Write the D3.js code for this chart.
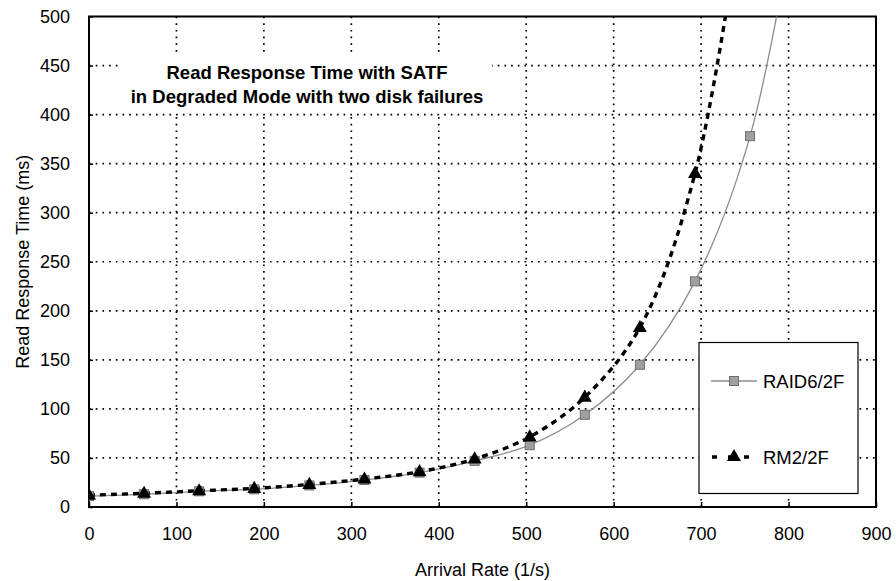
<!DOCTYPE html>
<html>
<head>
<meta charset="utf-8">
<script src="https://cdn.jsdelivr.net/npm/d3@7"></script>
<style>
  html, body { margin: 0; padding: 0; background: #fff; }
  svg { display: block; font-family: "Liberation Sans", Arial, Helvetica, sans-serif; }
</style>
</head>
<body>
<svg id="chart" width="896" height="581"></svg>
<script>
// Arrival rates (1/s) at which the read response time was measured
const arrivalRates = [0, 63, 126, 189, 252, 315, 378, 441, 504, 567, 630, 693, 756, 819];
// Read response time (ms); the trailing values lie above the plotted range
const raid6Values = [11, 13, 16, 18, 22, 27.5, 35, 47, 63, 94, 145, 230, 378, 665];
const rm2Values   = [12, 14, 16.5, 19, 23, 28.5, 36, 49, 71.5, 112, 183, 340, 665];

const xTicks = [0, 100, 200, 300, 400, 500, 600, 700, 800, 900];
const yTicks = [0, 50, 100, 150, 200, 250, 300, 350, 400, 450, 500];

const titleLines = ["Read Response Time with SATF", "in Degraded Mode with two disk failures"];
const xTitle = "Arrival Rate (1/s)";
const yTitle = "Read Response Time (ms)";
const seriesNames = ["RAID6/2F", "RM2/2F"];

const svg = d3.select("#chart");
const plot = { left: 89, right: 876, top: 16.5, bottom: 507 };

const x = d3.scaleLinear().domain([0, 900]).range([plot.left, plot.right]);
const y = d3.scaleLinear().domain([0, 500]).range([plot.bottom, plot.top]);

const raid6 = raid6Values.map((v, i) => ({ x: arrivalRates[i], y: v }));
const rm2 = rm2Values.map((v, i) => ({ x: arrivalRates[i], y: v }));

svg.append("defs").append("clipPath").attr("id", "plotClip")
  .append("rect")
  .attr("x", plot.left).attr("y", plot.top)
  .attr("width", plot.right - plot.left).attr("height", plot.bottom - plot.top);

// Dotted grid
const grid = svg.append("g").attr("stroke", "#000").attr("stroke-width", 1.7)
  .attr("stroke-dasharray", "1.7,5");
grid.selectAll(".gx").data(xTicks.slice(1, -1)).join("line")
  .attr("x1", d => x(d)).attr("x2", d => x(d))
  .attr("y1", plot.top).attr("y2", plot.bottom);
grid.selectAll(".gy").data(yTicks.slice(1, -1)).join("line")
  .attr("y1", d => y(d)).attr("y2", d => y(d))
  .attr("x1", plot.left).attr("x2", plot.right);

// Title panel sits over the grid
svg.append("rect").attr("x", 120).attr("y", 52).attr("width", 372).attr("height", 61)
  .attr("fill", "#fff");
svg.append("g").selectAll("text").data(titleLines).join("text")
  .attr("x", 307).attr("y", (d, i) => 79 + i * 24)
  .attr("text-anchor", "middle")
  .attr("font-weight", "bold").attr("font-size", 18.5)
  .text(d => d);

// Frame
svg.append("rect")
  .attr("x", plot.left).attr("y", plot.top)
  .attr("width", plot.right - plot.left).attr("height", plot.bottom - plot.top)
  .attr("fill", "none").attr("stroke", "#000").attr("stroke-width", 2);

// Axes
const xAxis = d3.axisBottom(x).tickValues(xTicks).tickSizeInner(-5).tickSizeOuter(0).tickPadding(20);
const gx = svg.append("g").attr("transform", `translate(0,${plot.bottom})`).call(xAxis);
gx.select(".domain").remove();
gx.selectAll("line").attr("stroke-width", 1.5);
gx.selectAll("text").attr("font-size", 18).attr("fill", "#000")
  .attr("font-family", "Liberation Sans, Arial, sans-serif");

const yAxis = d3.axisLeft(y).tickValues(yTicks).tickSizeInner(-4).tickSizeOuter(0).tickPadding(19);
const gy = svg.append("g").attr("transform", `translate(${plot.left},0)`).call(yAxis);
gy.select(".domain").remove();
gy.selectAll("line").attr("stroke-width", 1.5);
gy.selectAll("text").attr("font-size", 18).attr("fill", "#000")
  .attr("font-family", "Liberation Sans, Arial, sans-serif");

// Axis titles
svg.append("text").attr("x", (plot.left + plot.right) / 2).attr("y", 576)
  .attr("text-anchor", "middle").attr("font-size", 18).text(xTitle);
svg.append("text").attr("transform", `translate(29,${(plot.top + plot.bottom) / 2}) rotate(-90)`)
  .attr("text-anchor", "middle").attr("font-size", 18).text(yTitle);

// Series
const line = d3.line().x(d => x(d.x)).y(d => y(d.y)).curve(d3.curveCatmullRom);
const series = svg.append("g").attr("clip-path", "url(#plotClip)");

series.append("path").datum(raid6).attr("d", line)
  .attr("fill", "none").attr("stroke", "#8c8c8c").attr("stroke-width", 1.3);
series.append("path").datum(rm2).attr("d", line)
  .attr("fill", "none").attr("stroke", "#000").attr("stroke-width", 3.4)
  .attr("stroke-dasharray", "6,5");

const inRange = d => d.y <= y.domain()[1];
const sq = 9;
series.selectAll(".sq").data(raid6.filter(inRange)).join("rect")
  .attr("x", d => x(d.x) - sq / 2).attr("y", d => y(d.y) - sq / 2)
  .attr("width", sq).attr("height", sq)
  .attr("fill", "#a0a0a0").attr("stroke", "#6e6e6e").attr("stroke-width", 1);

const tri = d3.symbol().type(d3.symbolTriangle).size(85);
series.selectAll(".tri").data(rm2.filter(inRange)).join("path")
  .attr("transform", d => `translate(${x(d.x)},${y(d.y) + 0.5})`)
  .attr("d", tri).attr("fill", "#000");

// Legend
const legend = svg.append("g");
legend.append("rect").attr("x", 699).attr("y", 342.5).attr("width", 159).attr("height", 151)
  .attr("fill", "#fff").attr("stroke", "#000").attr("stroke-width", 1.2);
legend.append("line").attr("x1", 711).attr("x2", 757).attr("y1", 381).attr("y2", 381)
  .attr("stroke", "#8c8c8c").attr("stroke-width", 1.3);
legend.append("rect").attr("x", 734 - sq / 2).attr("y", 381 - sq / 2).attr("width", sq).attr("height", sq)
  .attr("fill", "#a0a0a0").attr("stroke", "#6e6e6e");
legend.append("line").attr("x1", 712).attr("x2", 753).attr("y1", 457).attr("y2", 457)
  .attr("stroke", "#000").attr("stroke-width", 3.4).attr("stroke-dasharray", "5,11,0,0");
legend.append("path").attr("transform", "translate(734,457)").attr("d", tri).attr("fill", "#000");
legend.selectAll("text").data(seriesNames).join("text")
  .attr("x", 763).attr("y", (d, i) => 387.5 + i * 76)
  .attr("font-size", 18.5).text(d => d);
</script>
</body>
</html>
